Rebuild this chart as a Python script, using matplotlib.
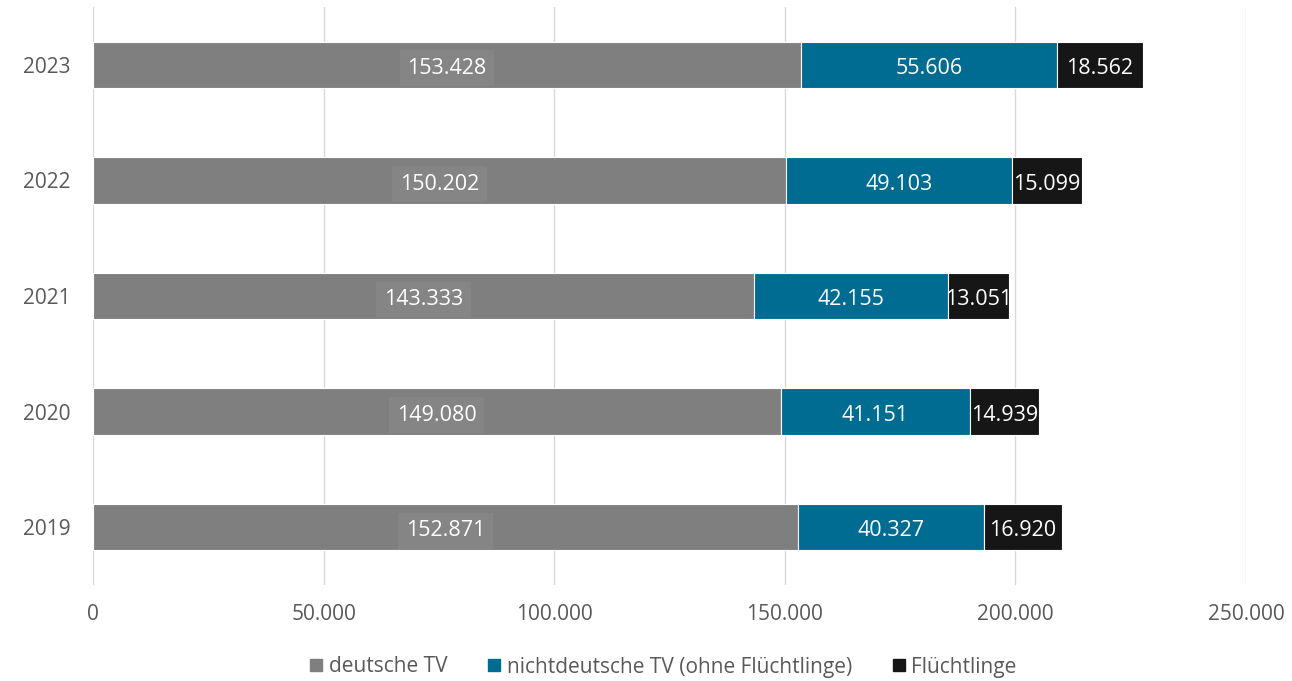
import numpy as np
import matplotlib.pyplot as plt
from matplotlib.lines import Line2D
from matplotlib.ticker import FuncFormatter

plt.rcParams['font.family'] = ['Open Sans', 'DejaVu Sans']

years = ['2019', '2020', '2021', '2022', '2023']
deutsche = [152871, 149080, 143333, 150202, 153428]
nichtdeutsche = [40327, 41151, 42155, 49103, 55606]
fluechtlinge = [16920, 14939, 13051, 15099, 18562]

series_names = ['deutsche TV', 'nichtdeutsche TV (ohne Flüchtlinge)', 'Flüchtlinge']
colors = ['#7f7f7f', '#006c92', '#161616']

def fmt(v):
    return f'{v:,.0f}'.replace(',', '.')

fig = plt.figure(figsize=(12.92, 6.81), dpi=100)
ax = fig.add_axes([93/1292, 1 - 585/681, (1246 - 93)/1292, (585 - 7)/681])

y = np.arange(len(years))
left = np.zeros(len(years))
for vals, name, col in zip([deutsche, nichtdeutsche, fluechtlinge], series_names, colors):
    vals = np.array(vals)
    ax.barh(y, vals, left=left, height=0.4, color=col, edgecolor='white', linewidth=0.8, zorder=3, label=name)
    for yi, l, v in zip(y, left, vals):
        box = None
        if col == '#7f7f7f':
            box = dict(boxstyle='square,pad=0.35', facecolor='#858585', edgecolor='none')
        ax.text(l + v / 2, yi - 0.01, fmt(v), ha='center', va='center_baseline', color='white',
                fontsize=15.5, bbox=box, zorder=4)
    left = left + vals

ax.set_xlim(0, 250000)
ax.set_ylim(-0.5, 4.5)
ax.set_xticks(np.arange(0, 250001, 50000))
ax.xaxis.set_major_formatter(FuncFormatter(lambda v, p: fmt(v)))
ax.set_yticks(y)
ax.set_yticklabels(years)
ax.grid(axis='x', color='#d9d9d9', linewidth=1, zorder=0)
for s in ax.spines.values():
    s.set_visible(False)
ax.tick_params(length=0, labelsize=15, colors='#595959')
ax.tick_params(axis='x', pad=14)
ax.tick_params(axis='y', pad=16)

handles = [Line2D([], [], marker='s', linestyle='none', markersize=8.5, color=c) for c in colors]
fig.legend(handles, series_names, loc='center', bbox_to_anchor=(0.513, 1 - 667/681), ncol=3,
           frameon=False, fontsize=15, labelcolor='#595959', handlelength=0.7,
           handletextpad=0.25, columnspacing=1.9)

plt.savefig('out.png')
